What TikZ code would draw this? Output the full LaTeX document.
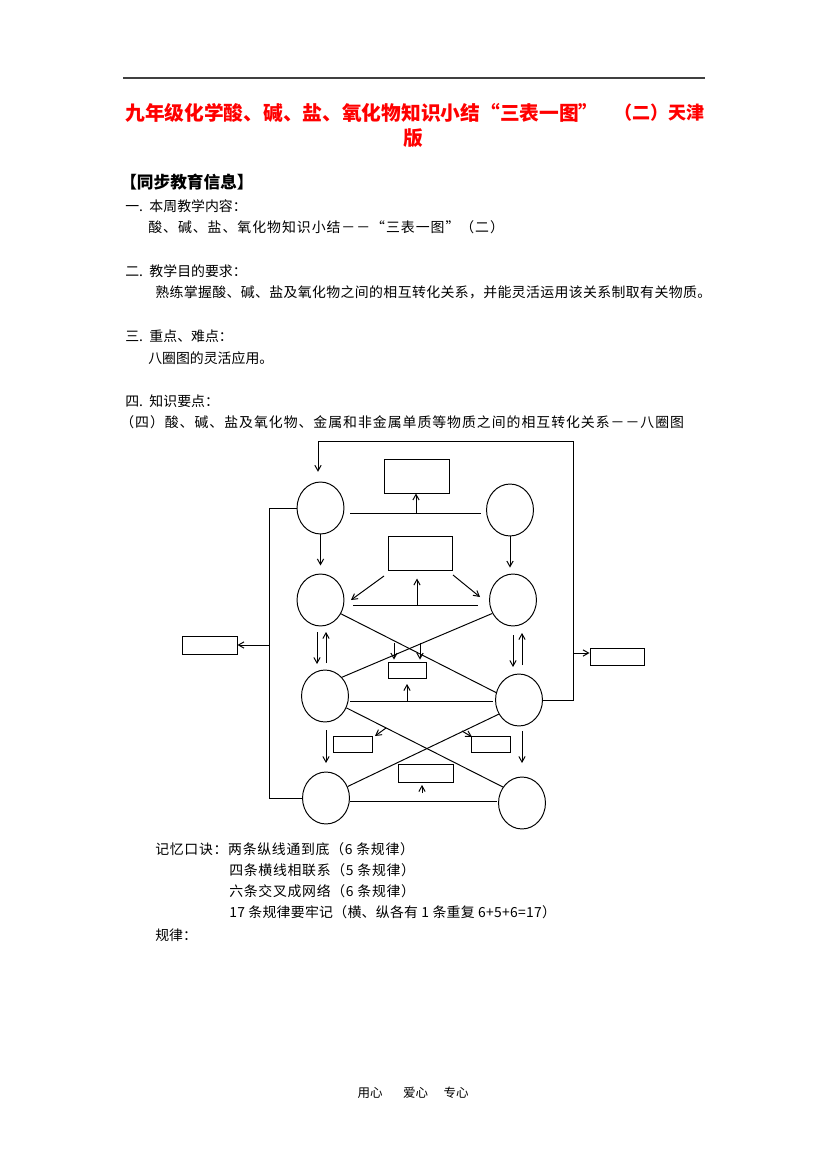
\documentclass[tikz,border=0pt]{standalone}
\usepackage{fontspec}
\setmainfont{Noto Sans CJK SC}
\usetikzlibrary{shapes.geometric,arrows.meta,calc}
\tikzset{
 ln/.style={line width=0.7pt},
 arr/.style={ln,-{Straight Barb[length=4pt,width=4.5pt]}},
 circ/.style={draw,ln,ellipse,inner sep=0pt,minimum width=33.8pt,minimum height=37.4pt},
 box/.style={draw,ln,rectangle,inner sep=0pt},
 txt/.style={anchor=west,inner sep=0pt,font=\fontsize{10}{12}\selectfont},
 ttl/.style={inner sep=0pt,text=red,font=\fontsize{14.2}{16}\selectfont\bfseries},
}
\begin{document}
\begin{tikzpicture}[x=0.72pt,y=-0.72pt]
\useasboundingbox (0,0) rectangle (827,1170);
% header rule
\draw[line width=1pt,black!75] (123,78) -- (705,78);
% title
\node[ttl,anchor=west] (t1) at (125,113) {九年级化学酸、碱、盐、氧化物知识小结“三表一图”};
\node[ttl,anchor=east,font=\fontsize{13}{16}\selectfont\bfseries] (t2) at (705,113) {（二）天津};
\node[ttl] (t3) at (413,138) {版};
% body text
\node[anchor=west,inner sep=0pt,font=\fontsize{12}{14}\selectfont\bfseries] (s0) at (120,182) {【同步教育信息】};
\node[txt] (s1) at (125,206) {一.\, 本周教学内容：};
\node[txt] (s1a) at (148,227) {\addfontfeature{LetterSpace=7}酸、碱、盐、氧化物知识小结－－“三表一图”（二）};
\node[txt] (s2) at (125,271) {二.\, 教学目的要求：};
\node[txt] (s2a) at (155,292) {\addfontfeature{LetterSpace=2.7}熟练掌握酸、碱、盐及氧化物之间的相互转化关系，并能灵活运用该关系制取有关物质。};
\node[txt] (s3) at (125,336) {三.\, 重点、难点：};
\node[txt] (s3a) at (148,358) {八圈图的灵活应用。};
\node[txt] (s4) at (125,401) {四.\, 知识要点：};
\node[txt] (s4a) at (120,422) {\addfontfeature{LetterSpace=7}（四）酸、碱、盐及氧化物、金属和非金属单质等物质之间的相互转化关系－－八圈图};
% circles
\node[circ] (c1) at (320.5,508) {};
\node[circ] (c2) at (510,510) {};
\node[circ] (c3) at (320.5,600) {};
\node[circ] (c4) at (513,600) {};
\node[circ] (c5) at (325,696) {};
\node[circ] (c6) at (519,700) {};
\node[circ] (c7) at (326,798) {};
\node[circ] (c8) at (522,803) {};
% boxes
\node[box,minimum width=46.8pt,minimum height=24.48pt] (bt) at (416.5,476) {};
\node[box,minimum width=46.08pt,minimum height=24.48pt] (bm) at (420,553) {};
\node[box,minimum width=39.6pt,minimum height=12.96pt] (blf) at (209.5,645) {};
\node[box,minimum width=38.88pt,minimum height=12.24pt] (brt) at (617,656.5) {};
\node[box,minimum width=27.36pt,minimum height=11.52pt] (bc) at (407,670) {};
\node[box,minimum width=28.08pt,minimum height=11.52pt] (bll) at (352.5,744) {};
\node[box,minimum width=28.08pt,minimum height=11.52pt] (blr) at (490.5,744) {};
\node[box,minimum width=39.6pt,minimum height=12.96pt] (bb) at (425.5,773) {};
% top loop
\coordinate (tr) at (573,441);
\coordinate (tl) at (318,441);
\draw[arr,shorten >=7pt] (c6.east) -| (tr) -- (tl) -- (tl |- c1.north);
\coordinate (rbr) at (573,653);
\draw[arr] (rbr) -- (brt.west |- rbr);
% left loop
\coordinate (lx) at (269,645);
\draw[ln] (c1.west) -| (lx |- c7.west) -- (c7.west);
\draw[arr] (lx) -- (blf.east |- lx);
% top horizontal
\coordinate (h1l) at (350,513);
\coordinate (h1r) at (481,513);
\coordinate (h1m) at (416,513);
\draw[ln] (h1l) -- (h1r);
\draw[arr] (h1m) -- (bt.south -| h1m);
% middle horizontal
\coordinate (h2l) at (353,605);
\coordinate (h2r) at (478,605);
\coordinate (h2m) at (417,605);
\draw[ln] (h2l) -- (h2r);
\draw[arr,shorten >=5.8pt] (h2m) -- (bm.south -| h2m);
\coordinate (dl1) at (384,576);
\coordinate (dl2) at (351,600);
\draw[arr] (dl1) -- (dl2);
\coordinate (dr1) at (453,575);
\coordinate (dr2) at (480,597);
\draw[arr] (dr1) -- (dr2);
% vertical arrows
\draw[arr,shorten >=5.8pt] (c1.south) -- (c3.north);
\draw[arr,shorten >=4.3pt] (c2.south) -- (c4.north -| c2.south);
\coordinate (a35a) at (317,632); \coordinate (a35b) at (317,664);
\coordinate (a53a) at (326,663); \coordinate (a53b) at (326,632);
\draw[arr] (a35a) -- (a35b);
\draw[arr] (a53a) -- (a53b);
\coordinate (a46a) at (513,635); \coordinate (a46b) at (513,667);
\coordinate (a64a) at (522,665); \coordinate (a64b) at (522,633);
\draw[arr] (a46a) -- (a46b);
\draw[arr] (a64a) -- (a64b);
\coordinate (a57a) at (326,730); \coordinate (a57b) at (326,763);
\draw[arr] (a57a) -- (a57b);
\coordinate (a68a) at (522,731); \coordinate (a68b) at (522,763);
\draw[arr] (a68a) -- (a68b);
% third-row horizontal
\coordinate (h3l) at (350,701);
\coordinate (h3r) at (493,701);
\coordinate (h3m) at (407,701);
\coordinate (h3t) at (407,684);
\draw[ln] (h3l) -- (h3r);
\draw[arr] (h3m) -- (h3t);
% bottom horizontal
\coordinate (h4l) at (350,801);
\coordinate (h4r) at (497,801);
\draw[ln] (h4l) -- (h4r);
\coordinate (h4a) at (422,793);
\coordinate (h4b) at (422,785);
\draw[arr] (h4a) -- (h4b);
% diagonals
\draw[ln] (c3.-34) -- (c6.162);
\draw[ln] (c4.213) -- (c5.48);
\draw[ln] (c5.-29) -- (c8.140);
\draw[ln] (c6.215) -- (c7.28);
% arrows into centre box
\coordinate (x1) at (394,643);
\coordinate (x2) at (420,643);
\draw[arr,shorten >=1.4pt] (x1) -- (bc.north -| x1);
\draw[arr,shorten >=1.4pt] (x2) -- (bc.north -| x2);
% small arrows to lower boxes
\coordinate (y1) at (386,728);
\coordinate (y1e) at (375,736);
\draw[arr] (y1) -- (y1e);
\coordinate (y2) at (462,731);
\coordinate (y2e) at (472,737);
\draw[arr] (y2) -- (y2e);
% memory text
\node[txt] (m1) at (155,849) {\addfontfeature{LetterSpace=5}记忆口诀：两条纵线通到底（6 条规律）};
\node[txt] (m2) at (229,870) {\addfontfeature{LetterSpace=5}四条横线相联系（5 条规律）};
\node[txt] (m3) at (229,891) {\addfontfeature{LetterSpace=5}六条交叉成网络（6 条规律）};
\node[txt] (m4) at (229,912) {\addfontfeature{LetterSpace=2}17 条规律要牢记（横、纵各有 1 条重复 6+5+6=17）};
\node[txt] (m5) at (155,935) {规律：};
% footer
\node[inner sep=0pt,font=\fontsize{9}{11}\selectfont] (f1) at (370,1093) {用心};
\node[inner sep=0pt,font=\fontsize{9}{11}\selectfont] (f2) at (415.5,1093) {爱心};
\node[inner sep=0pt,font=\fontsize{9}{11}\selectfont] (f3) at (456,1093) {专心};
\end{tikzpicture}
\end{document}
